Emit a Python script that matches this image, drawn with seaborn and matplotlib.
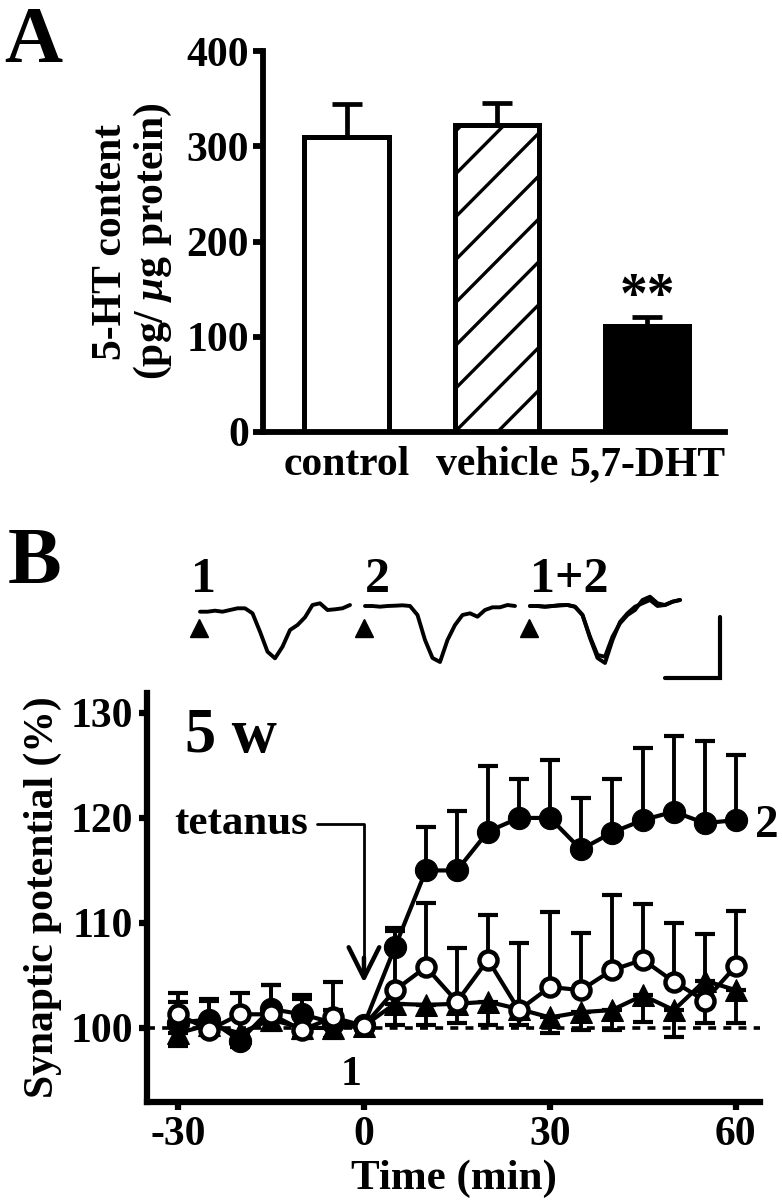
import numpy as np
import matplotlib
matplotlib.use('Agg')
import matplotlib.pyplot as plt
import seaborn as sns

# ---- panel A: 5-HT content ----
groups = ['control', 'vehicle', '5,7-DHT']
ht_content = [310, 322, 111]
ht_sem = [34, 23, 10]

# ---- panel B: synaptic potential (%) vs time (min) ----
time_min = [-30, -25, -20, -15, -10, -5, 0, 5, 10, 15, 20, 25, 30, 35, 40, 45, 50, 55, 60]
filled_pct = [100.5, 100.8, 98.8, 101.8, 101.3, 100.5, 100.3, 107.7, 115.0, 115.0,
              118.7, 120.0, 120.0, 117.0, 118.6, 119.8, 120.6, 119.5, 119.8]
filled_err = [2.0, 2.0, 2.3, 2.3, 1.8, 1.2, 0.3, 1.8, 4.1, 5.7,
              6.2, 3.7, 5.5, 4.9, 5.1, 6.9, 7.2, 7.8, 6.2]
open_pct = [101.3, 99.8, 101.3, 101.3, 99.8, 101.0, 100.2, 103.6, 105.8, 102.5,
            106.5, 101.7, 103.9, 103.6, 105.5, 106.5, 104.4, 102.6, 105.9]
open_err = [2.0, 2.8, 2.0, 2.8, 3.0, 3.4, 0.3, 5.6, 6.1, 5.1,
            4.3, 6.4, 7.1, 5.4, 7.2, 5.3, 5.6, 6.3, 5.2]
tri_pct = [99.5, 100.3, 99.5, 100.8, 100.0, 100.0, 100.2, 102.3, 102.2, 102.3,
           102.5, 101.8, 101.0, 101.5, 101.7, 103.1, 101.7, 104.5, 103.6]
tri_err = [1.2, 1.0, 1.3, 1.0, 1.0, 1.0, 0.3, 2.0, 1.9, 1.8,
           2.2, 1.5, 1.5, 1.7, 1.9, 2.5, 2.6, 4.0, 3.1]

# example sweeps (arbitrary units, baseline 0), one value per sample
trace_1 = [-5.7, -5.7, -4.7, -5.7, -4, -2.3, -2.3, -7.3, -25.7, -45.7, -52.3,
           -40.7, -24, -19, -11.3, 1, 2.7, -4, -3.3, -2.3, 1]
trace_2 = [0, 0, -0.7, 0, 0.3, 0.7, 0, -9, -34, -52, -56,
           -34, -19, -9, -7.3, -10.7, -4, -1.3, -1.3, 1, 0]
trace_12a = [0, 0, -0.7, 0, 0.7, 1, -0.7, -9, -30.7, -49, -50.7,
             -30.7, -17.3, -9, -4, 6, 9.3, 2.7, 1, 4.3, 6]
trace_12b = [0, 0, -0.7, 0, 0.7, 1, -0.7, -9, -32, -52, -57,
             -34, -16, -7.3, -0.7, 2.7, 6, 0, 1, 4.3, 6]
trace_labels = ['1', '2', '1+2']
sweep_start = [0, 22, 44]

sns.set_style('ticks')
plt.rcParams['font.family'] = ['Liberation Serif', 'DejaVu Serif']
plt.rcParams['font.weight'] = 'bold'
plt.rcParams['axes.labelweight'] = 'bold'
for key in ['text.color', 'axes.labelcolor', 'axes.edgecolor', 'xtick.color', 'ytick.color']:
    plt.rcParams[key] = 'black'
plt.rcParams['mathtext.fontset'] = 'custom'
plt.rcParams['mathtext.rm'] = 'Liberation Serif:bold'
plt.rcParams['mathtext.it'] = 'Liberation Serif:italic:bold'

fig = plt.figure(figsize=(7.82, 12), dpi=100)

# ================= A =================
axA = fig.add_axes([0.3363, 0.64, 0.5908, 0.3175])
sns.barplot(x=groups, y=ht_content, hue=groups, palette=['white', 'white', 'black'],
            legend=False, width=0.56, ax=axA, saturation=1, zorder=2)
for p in axA.patches:
    p.set_edgecolor('black')
    p.set_linewidth(3.6)
    p.set_joinstyle('miter')
axA.errorbar(range(len(groups)), ht_content, yerr=[[0] * 3, ht_sem], fmt='none',
             ecolor='black', elinewidth=3.4, capsize=11, capthick=3.4, zorder=1)

# diagonal hatch on the vehicle bar, drawn as clipped lines
veh = axA.patches[1]
x0 = veh.get_x()
w = veh.get_width()
for c in np.arange(-90, 330, 45):
    ln, = axA.plot([x0, x0 + w], [c, c + 89], color='black', lw=2.4, zorder=3)
    ln.set_clip_path(veh)

axA.text(2, 126, '**', ha='center', va='baseline', fontsize=40)

axA.set_xlim(-0.556, 2.517)
axA.set_ylim(0, 400)
axA.set_yticks([0, 100, 200, 300, 400])
axA.set_ylabel('5-HT content\n(pg/ $\\mathit{μ}$g protein)', fontsize=30,
               linespacing=1.05, labelpad=9)
axA.set_xlabel('')
sns.despine(ax=axA)
for s in ['left', 'bottom']:
    axA.spines[s].set_linewidth(4.2)
axA.tick_params(axis='y', labelsize=30, width=4.2, length=7, pad=3)
axA.tick_params(axis='x', labelsize=30, length=0, pad=10)

fig.text(0.006, 1 - 62 / 1200, 'A', fontsize=58, va='baseline', ha='left')
fig.text(0.010, 1 - 583 / 1200, 'B', fontsize=58, va='baseline', ha='left')

# ================= B traces =================
axT = fig.add_axes([180 / 782, 1 - 700 / 1200, 560 / 782, 160 / 1200])
samples = np.arange(len(trace_1))
for k, tr in enumerate([trace_1, trace_2, trace_12a, trace_12b]):
    s0 = sweep_start[min(k, 2)]
    axT.plot(samples + s0, tr, color='black', lw=2.8, solid_joinstyle='round',
             solid_capstyle='round')
for s0, lab in zip(sweep_start, trace_labels):
    axT.plot(s0 - 0.2, -22, marker='^', color='black', ms=13)
    axT.text(s0 - 1.2 if lab == '1' else s0, 14, lab, fontsize=36, ha='left', va='baseline')
axT.plot([62, 69.3, 69.3], [-72, -72, -11], color='black', lw=3, solid_joinstyle='miter')
axT.set_xlim(-2.667, 72)
axT.set_ylim(-94, 66)
axT.axis('off')

# ================= B time course =================
axB = fig.add_axes([0.188, 0.0817, 0.7839, 0.3408])
axB.axhline(100, color='black', lw=2.6, ls=(0, (2.2, 2.0)), zorder=1)

axB.errorbar(time_min, tri_pct, yerr=[tri_err, [0] * len(tri_err)], fmt='none',
             ecolor='black', elinewidth=2.8, capsize=7, capthick=3, zorder=2)
sns.lineplot(x=time_min, y=tri_pct, ax=axB, color='black', lw=3, marker='^',
             markersize=16, markerfacecolor='black', markeredgecolor='black', zorder=3)

axB.errorbar(time_min, filled_pct, yerr=[[0] * len(filled_err), filled_err], fmt='none',
             ecolor='black', elinewidth=2.8, capsize=7, capthick=3, zorder=4)
sns.lineplot(x=time_min, y=filled_pct, ax=axB, color='black', lw=3, marker='o',
             markersize=16, markerfacecolor='black', markeredgecolor='black', zorder=5)

axB.errorbar(time_min, open_pct, yerr=[[0] * len(open_err), open_err], fmt='none',
             ecolor='black', elinewidth=2.8, capsize=7, capthick=3, zorder=6)
sns.lineplot(x=time_min, y=open_pct, ax=axB, color='black', lw=3, marker='o',
             markersize=13, markerfacecolor='white', markeredgecolor='black',
             markeredgewidth=3.2, zorder=7)

axB.set_xlim(-35, 63.9)
axB.set_ylim(92.95, 131.9)
axB.set_xticks([-30, 0, 30, 60])
axB.set_xticklabels(['-30', '0', '30', '60'])
axB.set_yticks([100, 110, 120, 130])
axB.set_yticklabels(['100', '110', '120', '130'])
axB.set_xlabel('Time (min)', fontsize=31, labelpad=4)
axB.set_ylabel('Synaptic potential (%)', fontsize=30, labelpad=6)
sns.despine(ax=axB)
for s in ['left', 'bottom']:
    axB.spines[s].set_linewidth(4.5)
axB.tick_params(axis='both', labelsize=30, width=4.5, length=6, pad=4)

axB.text(-28.9, 126.3, '5 w', fontsize=45, ha='left', va='baseline')
axB.text(-2.1, 94.6, '1', fontsize=30, ha='center', va='baseline')
axB.text(63.1, 118.2, '2', fontsize=34, ha='left', va='baseline', clip_on=False)
# tetanus marker: thin leader line plus a heavier open arrowhead
axB.annotate('tetanus', xy=(0, 106.5), xytext=(-9.0, 119.4), fontsize=31,
             ha='right', va='center',
             arrowprops=dict(arrowstyle='-',
                             connectionstyle='angle,angleA=0,angleB=90,rad=0',
                             color='black', lw=2, shrinkA=4, shrinkB=0))
axB.annotate('', xy=(0, 104.3), xytext=(0, 106.7),
             arrowprops=dict(arrowstyle='->,head_length=1.1,head_width=0.55',
                             color='black', lw=3.2, mutation_scale=20,
                             shrinkA=0, shrinkB=0))

fig.savefig('out.png', dpi=100)
